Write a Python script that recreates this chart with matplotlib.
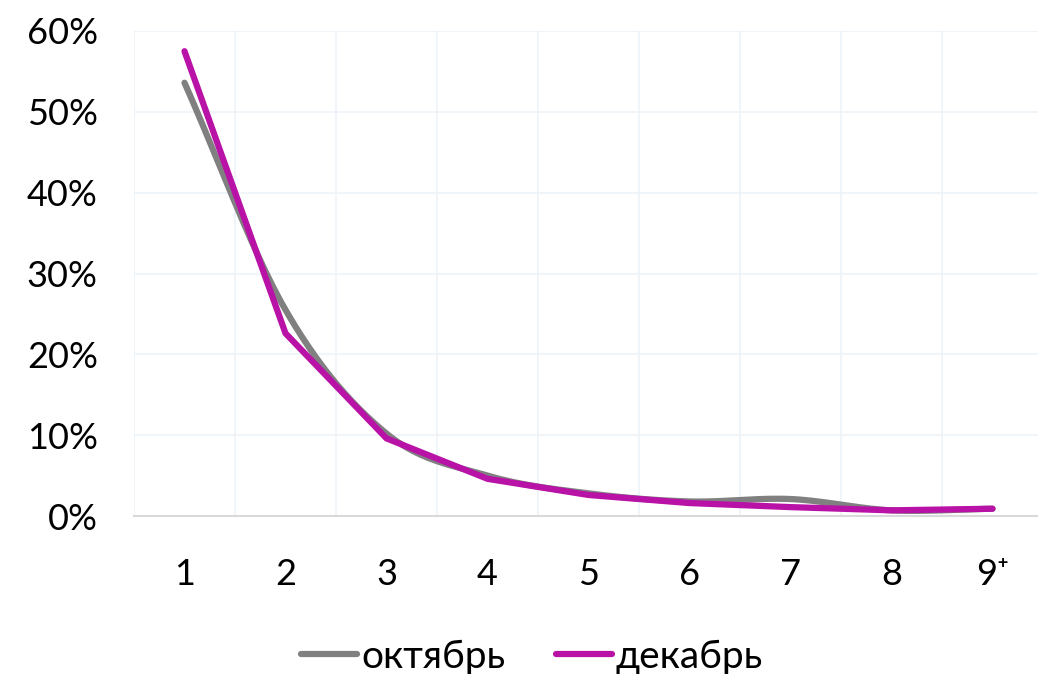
import numpy as np
import matplotlib
matplotlib.use("Agg")
import matplotlib.pyplot as plt
from matplotlib.ticker import PercentFormatter

# Data
categories = ["1", "2", "3", "4", "5", "6", "7", "8", "9⁺"]
october = [53.6, 25.5, 10.2, 5.0, 2.8, 1.8, 2.1, 0.7, 0.9]
december = [57.5, 22.6, 9.6, 4.6, 2.6, 1.6, 1.1, 0.7, 0.9]

plt.rcParams['font.family'] = ['Lato', 'DejaVu Sans']


def smooth(x, y, n=30):
    # Catmull-Rom style smoothing (like spreadsheet "smoothed line")
    x = np.asarray(x, float)
    y = np.asarray(y, float)
    px = np.concatenate([[2 * x[0] - x[1]], x, [2 * x[-1] - x[-2]]])
    py = np.concatenate([[2 * y[0] - y[1]], y, [2 * y[-1] - y[-2]]])
    xs, ys = [], []
    t = np.linspace(0, 1, n)
    for i in range(1, len(px) - 2):
        p0, p1, p2, p3 = [np.array([px[j], py[j]]) for j in range(i - 1, i + 3)]
        m1 = (p2 - p0) / 6
        m2 = (p3 - p1) / 6
        b0 = p1
        b1 = p1 + m1
        b2 = p2 - m2
        b3 = p2
        pts = (((1 - t) ** 3)[:, None] * b0 + (3 * (1 - t) ** 2 * t)[:, None] * b1
               + (3 * (1 - t) * t ** 2)[:, None] * b2 + (t ** 3)[:, None] * b3)
        xs.extend(pts[:, 0])
        ys.extend(pts[:, 1])
    return np.array(xs), np.array(ys)


fig = plt.figure(figsize=(10.38, 6.74), dpi=100)
ax = fig.add_axes([134 / 1038, 1 - 516 / 674, 909 / 1038, (516 - 31) / 674])

x = np.arange(len(categories))
sx, sy = smooth(x, october)
ax.plot(sx, sy, color='#808080', lw=4.5, solid_capstyle='round', label='октябрь', zorder=3)
ax.plot(x, december, color='#B812A6', lw=4.5, solid_capstyle='round',
        solid_joinstyle='miter', label='декабрь', zorder=4)

ax.set_xlim(-0.5, len(categories) - 0.5)
ax.set_ylim(0, 60)
ax.set_yticks(np.arange(0, 61, 10))
ax.yaxis.set_major_formatter(PercentFormatter(decimals=0))
ax.set_xticks(x)
ax.set_xticklabels(categories)

# grid
for gx in np.arange(-0.5, len(categories), 1):
    ax.axvline(gx, color='#EDF3FA', lw=1.2, zorder=1)
for gy in range(10, 61, 10):
    ax.axhline(gy, color='#EDF3FA', lw=1.2, zorder=1)

for s in ['top', 'right', 'left']:
    ax.spines[s].set_visible(False)
ax.spines['bottom'].set_color('#D9D9D9')
ax.spines['bottom'].set_linewidth(1.5)

ax.tick_params(axis='both', length=0, labelsize=26, colors='black')
ax.tick_params(axis='y', pad=26)
ax.tick_params(axis='x', pad=30)

fig.legend(loc='center', bbox_to_anchor=(532 / 1038, 1 - 657 / 674), ncol=2,
           frameon=False, fontsize=28, handlelength=1.45, handletextpad=0.1,
           columnspacing=1.3)

fig.savefig('out.png', dpi=100)
